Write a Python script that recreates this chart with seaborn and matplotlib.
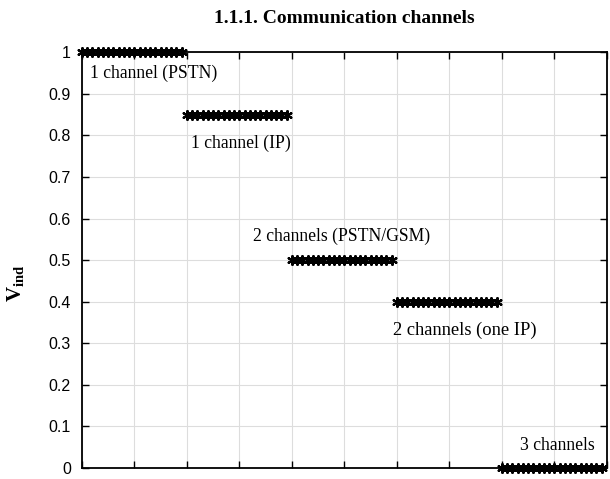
import numpy as np
import pandas as pd
import matplotlib
matplotlib.use("Agg")
import matplotlib.pyplot as plt
import seaborn as sns

# Indicator level for each communication-channel configuration
configs = ["1 channel (PSTN)", "1 channel (IP)", "2 channels (PSTN/GSM)",
           "2 channels (one IP)", "3 channels"]
levels = [1.0, 0.85, 0.5, 0.4, 0.0]
seg_start = [0, 2, 4, 6, 8]
seg_points = 20
seg_step = 0.1
y_ticks = [0, 0.1, 0.2, 0.3, 0.4, 0.5, 0.6, 0.7, 0.8, 0.9, 1]
y_tick_labels = ["0", "0.1", "0.2", "0.3", "0.4", "0.5", "0.6", "0.7", "0.8", "0.9", "1"]

rows = []
for name, lvl, s in zip(configs, levels, seg_start):
    for k in range(seg_points):
        rows.append({"config": name, "x": s + k * seg_step, "v": lvl})
df = pd.DataFrame(rows)

sns.set_theme(style="whitegrid")
plt.rcParams["font.family"] = ["Liberation Sans", "DejaVu Sans"]
plt.rcParams["text.color"] = "black"
plt.rcParams["axes.labelcolor"] = "black"
plt.rcParams["mathtext.fontset"] = "custom"
plt.rcParams["mathtext.rm"] = "Liberation Serif"
plt.rcParams["mathtext.bf"] = "Liberation Serif:bold"
plt.rcParams["mathtext.it"] = "Liberation Serif:italic"

fig = plt.figure(figsize=(6.1, 4.79), dpi=100)
ax = fig.add_axes([0.1344, 0.023, 0.8606, 0.868])

sns.scatterplot(data=df, x="x", y="v", marker=(6, 2, 0), s=40,
                color="black", edgecolor="black", linewidth=1.6,
                clip_on=False, legend=False, ax=ax, zorder=5)

ax.set_xlim(0, 10)
ax.set_ylim(0, 1)
ax.set_xticks(np.arange(0, 11, 1))
ax.set_xticklabels([])
ax.set_yticks(y_ticks)
ax.set_yticklabels(y_tick_labels, fontsize=11.5)
ax.set_xlabel("")
ax.set_ylabel(r"$\mathbf{V_{ind}}$", fontsize=15)
ax.yaxis.set_label_coords(-0.106, 0.445)

ax.grid(True, color="#dddddd", linewidth=0.8)
for sp in ax.spines.values():
    sp.set_visible(True)
    sp.set_color("black")
    sp.set_linewidth(1.3)
ax.tick_params(axis="both", direction="in", length=5, width=1, color="black",
               top=True, right=True, bottom=True, left=True, labelcolor="black", pad=8)

serif = "Liberation Serif"
fs = 12.7
ax.text(0.15, 0.95, configs[0], fontsize=fs, fontfamily=serif, ha="left", va="center")
ax.text(2.08, 0.781, configs[1], fontsize=fs, fontfamily=serif, ha="left", va="center")
ax.text(4.95, 0.556, configs[2], fontsize=fs, fontfamily=serif, ha="center", va="center")
ax.text(7.3, 0.33, configs[3], fontsize=13.3, fontfamily=serif, ha="center", va="center")
ax.text(9.05, 0.053, configs[4], fontsize=fs, fontfamily=serif, ha="center", va="center")

ax.set_title("1.1.1. Communication channels", fontsize=14, fontweight="bold",
             fontfamily=serif, pad=21)

fig.savefig("out.png", dpi=100)
